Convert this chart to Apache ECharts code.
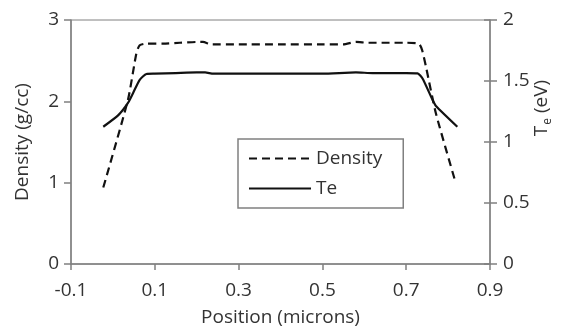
<!DOCTYPE html>
<html>
<head>
<meta charset="utf-8">
<script src="https://cdn.jsdelivr.net/npm/echarts@6/dist/echarts.min.js"></script>
<style>
  html, body { margin: 0; padding: 0; background: #fff; }
  #chart { width: 565px; height: 328px; }
</style>
</head>
<body>
<div id="chart"></div>
<script>
// Density profile (g/cc) vs position (microns)
var densityPos = [-0.023, 0.036, 0.056, 0.064, 0.08, 0.12, 0.16, 0.2, 0.215, 0.235, 0.3, 0.4, 0.5, 0.55, 0.58, 0.61, 0.65, 0.7, 0.73, 0.738, 0.747, 0.771, 0.818];
var density    = [0.94, 2.02, 2.59, 2.69, 2.71, 2.71, 2.72, 2.73, 2.73, 2.70, 2.70, 2.70, 2.70, 2.70, 2.73, 2.72, 2.72, 2.72, 2.71, 2.63, 2.43, 1.85, 1.0];

// Electron temperature Te (eV) vs position (microns)
var tePos = [-0.023, 0.013, 0.036, 0.048, 0.064, 0.08, 0.1, 0.15, 0.2, 0.22, 0.24, 0.3, 0.4, 0.5, 0.58, 0.62, 0.7, 0.727, 0.739, 0.763, 0.771, 0.822];
var te    = [1.125, 1.22, 1.32, 1.40, 1.51, 1.557, 1.56, 1.565, 1.57, 1.57, 1.56, 1.56, 1.56, 1.56, 1.57, 1.565, 1.565, 1.563, 1.52, 1.344, 1.295, 1.125];

var FONT = '"Open Sans", sans-serif';
var FS = 19;
var AXIS = '#808080';
var TXT = '#333';

function pairs(xs, ys){ return xs.map(function(x, i){ return [x, ys[i]]; }); }

var chart = echarts.init(document.getElementById('chart'), null, { renderer: 'canvas' });

chart.setOption({
  animation: false,
  backgroundColor: '#fff',
  textStyle: { fontFamily: FONT },
  grid: { left: 71, right: 75, top: 20, bottom: 64, outerBoundsMode: 'none', containLabel: false,
    show: true, borderColor: AXIS, borderWidth: 1 },
  legend: {
    left: 238, top: 139, orient: 'vertical',
    data: ['Density', 'Te'],
    itemWidth: 62, itemHeight: 14, itemGap: 11,
    padding: [10, 21, 10, 10],
    borderColor: AXIS, borderWidth: 1.5,
    itemStyle: { color: 'transparent', borderWidth: 0, opacity: 0 },
    textStyle: { fontFamily: FONT, fontSize: FS, color: TXT }
  },
  xAxis: {
    type: 'value', min: -0.1, max: 0.9, interval: 0.2,
    name: 'Position (microns)', nameLocation: 'middle', nameGap: 44,
    nameTextStyle: { fontFamily: FONT, fontSize: FS, color: TXT },
    axisLine: { show: true, onZero: false, lineStyle: { color: AXIS, width: 1.5 } },
    axisTick: { show: true, inside: false, length: 6, lineStyle: { color: AXIS, width: 1.5 } },
    axisLabel: { fontFamily: FONT, fontSize: FS, color: TXT, margin: 17,
      formatter: function(v){ return (Math.round(v * 10) / 10).toFixed(1); } },
    splitLine: { show: false }
  },
  yAxis: [
    {
      type: 'value', min: 0, max: 3, interval: 1, position: 'left',
      name: 'Density (g/cc)', nameLocation: 'middle', nameGap: 39,
      nameTextStyle: { fontFamily: FONT, fontSize: FS, color: TXT },
      axisLine: { show: true, onZero: false, lineStyle: { color: AXIS, width: 1.5 } },
      axisTick: { show: true, inside: false, length: 7, lineStyle: { color: AXIS, width: 1.5 } },
      axisLabel: { fontFamily: FONT, fontSize: FS, color: TXT, margin: 12 },
      splitLine: { show: false }
    },
    {
      type: 'value', min: 0, max: 2, interval: 0.5, position: 'right',
      axisLine: { show: true, onZero: false, lineStyle: { color: AXIS, width: 1.5 } },
      axisTick: { show: true, inside: false, length: 7, lineStyle: { color: AXIS, width: 1.5 } },
      axisLabel: { fontFamily: FONT, fontSize: FS, color: TXT, margin: 13 },
      splitLine: { show: false }
    },
    {
      // inner half of the crossing ticks on the Te axis
      type: 'value', min: 0, max: 2, interval: 0.5, position: 'right',
      axisLine: { show: false, onZero: false },
      axisTick: { show: true, inside: true, length: 6, lineStyle: { color: AXIS, width: 1.5 } },
      axisLabel: { show: false },
      splitLine: { show: false }
    }
  ],
  graphic: [{
    type: 'text',
    x: 542, y: 108,
    rotation: Math.PI / 2,
    style: {
      text: '{t|T}{s|e}{t| (eV)}',
      align: 'center', verticalAlign: 'middle',
      fill: TXT,
      rich: {
        t: { fontFamily: FONT, fontSize: FS, fill: TXT },
        s: { fontFamily: FONT, fontSize: 12, fill: TXT, padding: [11, 0, 0, 1] }
      }
    }
  }],
  series: [
    {
      name: 'Density', type: 'line', xAxisIndex: 0, yAxisIndex: 0,
      data: pairs(densityPos, density),
      symbol: 'none', smooth: 0.2,
      lineStyle: { color: '#111', width: 2.2, type: [8, 5] },
      itemStyle: { color: '#111' }
    },
    {
      name: 'Te', type: 'line', xAxisIndex: 0, yAxisIndex: 1,
      data: pairs(tePos, te),
      symbol: 'none', smooth: 0.2,
      lineStyle: { color: '#111', width: 2.2 },
      itemStyle: { color: '#111' }
    }
  ]
});
</script>
</body>
</html>
